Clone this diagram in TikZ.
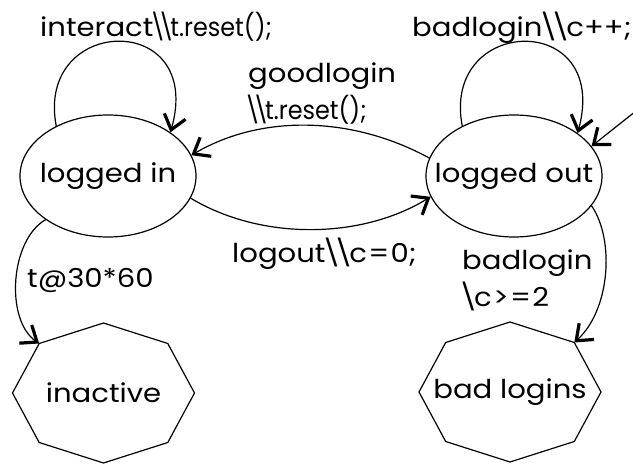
\documentclass[tikz,border=0pt]{standalone}
\usepackage{fontspec}
\setmainfont{Poppins}[FakeStretch=1.12]
\newfontfamily\codefont{Poppins}[FakeStretch=0.92]
\usetikzlibrary{shapes.geometric,arrows.meta}
% tight backslash
\newcommand\bsl{\kern-.14em\textbackslash\kern-.14em}
\newcommand\treset{{\codefont\bsl\bsl t.reset();}}
\newcommand\octagonat[2]{%
  % stretched octagon with a vertex on top, around node #1, two upper corners named
  \draw[octo, shift={(#1.center)}]
    (0,-70) -- (64.3,-49.5) -- (91,0) -- (64.3,49.5) -- (0,70)
    -- (-64.3,49.5) -- (-91,0) -- (-64.3,-49.5) -- cycle;
  \coordinate (#2ur) at ([shift={(64.3,-49.5)}]#1.center);
  \coordinate (#2ul) at ([shift={(-64.3,-49.5)}]#1.center);
}
\begin{document}
\begin{tikzpicture}[x=1pt,y=-1pt,
  txt/.style={font=\fontsize{26}{37}\selectfont},
  state/.style={draw, ellipse, line width=1.2pt, minimum width=176pt,
    minimum height=122pt, inner sep=0pt, txt},
  final/.style={inner sep=0pt, txt},
  lbl/.style={txt, inner sep=0pt, anchor=base west, align=left},
  octo/.style={line width=1.2pt, line join=miter},
  trans/.style={line width=1.2pt,
    -{Straight Barb[length=14pt,width=22pt,line width=3.2pt]}}
]
\useasboundingbox (0,0) rectangle (633,465);

% states
\node[state] (li) at (108,176) {\makebox[0pt]{logged in}};
\node[state] (lo) at (514,176) {\makebox[0pt]{logged out}};
\node[final] (ina) at (103.5,393) {inactive};
\node[final] (bad) at (510,392) {bad logins};
\octagonat{ina}{ina}
\octagonat{bad}{bad}

% entry from outside
\coordinate (ext) at (636,111);

% transitions
\draw[trans] (li.136) .. controls (35,15) and (205,10) .. (li.35);
\draw[trans] (lo.136) .. controls (441,15) and (611,10) .. (lo.34);
\draw[trans] (lo.168) .. controls (350,115) and (260,115) .. (li.14);
\draw[trans] (li.-15) .. controls (260,240) and (360,240) .. (lo.194);
\draw[trans] (li.215) .. controls (10,240) and (5,320) .. (inaul);
\draw[trans] (lo.-21) .. controls (615,240) and (610,310) .. (badur);
\draw[trans] (ext) -- (lo.21);

% labels
\node[lbl] (l1) at (40,37) {interact\treset};
\node[lbl] (l2) at (412,37) {badlogin\bsl\bsl c++;};
\node[lbl] (l3) at (248,120) {goodlogin\\\treset};
\node[lbl] (l4) at (232,263) {logout\bsl\bsl c\kern.05em=\kern.05em0;};
\node[lbl] (l5) at (27,288) {t@30*60};
\node[lbl] (l6) at (462,307) {badlogin\\\bsl c\kern.05em>\kern.05em=\kern.05em2};
\end{tikzpicture}
\end{document}
